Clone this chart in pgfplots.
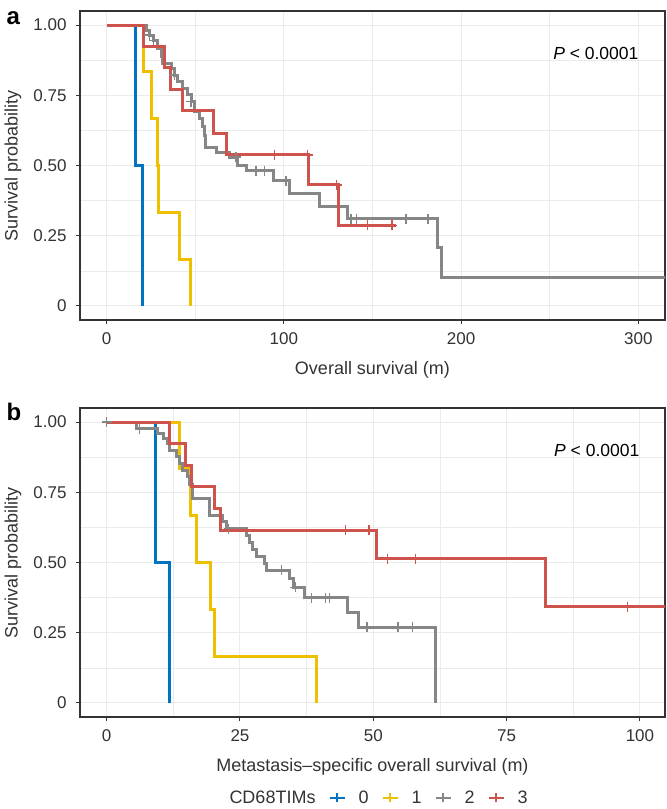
\documentclass[border=0pt]{standalone}
\usepackage{fontspec}
\setmainfont{Liberation Sans}
\usepackage{pgfplots}
\pgfplotsset{compat=1.18}
\definecolor{c0}{HTML}{0073C2}
\definecolor{c1}{HTML}{EFC000}
\definecolor{c2}{HTML}{868686}
\definecolor{c3}{HTML}{CD534C}
\definecolor{gridc}{HTML}{EBEBEB}
\definecolor{txt}{HTML}{333333}
\pgfplotsset{
 kmstyle/.style={
  scale only axis, width=585pt, height=309pt,
  ymin=-0.05, ymax=1.05,
  ytick={0,0.25,0.5,0.75,1}, yticklabels={0,0.25,0.50,0.75,1.00},
  minor ytick={0.125,0.375,0.625,0.875},
  grid=both, major grid style={gridc, line width=1pt}, minor grid style={gridc, line width=0.6pt},
  axis line style={txt, line width=1.2pt},
  tick align=outside, tick pos=left, tick style={txt, line width=1pt}, major tick length=4pt, minor tick length=0pt,
  tick label style={font=\fontsize{17}{20}\selectfont, text=txt},
  xticklabel style={yshift=-5pt},
  yticklabel style={xshift=-6pt},
  /pgf/number format/assume math mode=true,
  label style={font=\fontsize{18}{21}\selectfont, text=txt},
  ylabel={Survival probability},
  ylabel style={at={(axis description cs:-0.1145,0.5)}, anchor=center},
  xlabel style={at={(axis description cs:0.5,-0.162)}, anchor=center},
  clip=true,
 },
 km/.style={const plot, line width=3pt, #1},
 cens/.style={only marks, mark=+, mark size=5pt, line width=1.4pt, #1, forget plot},
}
\begin{document}
\begin{tikzpicture}[x=1pt,y=1pt]
\useasboundingbox (0pt,0pt) rectangle (667pt,809pt);
% ---------- panel a ----------
\begin{axis}[kmstyle, at={(80pt,489pt)}, anchor=south west,
  xmin=-15, xmax=315, xtick={0,100,200,300}, minor xtick={50,150,250},
  xlabel={Overall survival (m)}]
\addplot[km=c0] coordinates {(0,1) (16.2,0.5) (20.5,0)};
\addplot[km=c1] coordinates {(0,1) (21,0.833) (25.2,0.667) (28.5,0.5) (29.4,0.333) (41.1,0.167) (47.1,0)};
\addplot[km=c2] coordinates {(0,1) (22.3,0.982) (24.2,0.964) (26.5,0.946) (28.9,0.917) (30.8,0.887) (31.7,0.862) (36.4,0.846) (38.3,0.822) (40.2,0.798) (43,0.775) (45.8,0.751) (47.7,0.727) (49.6,0.691) (52.4,0.668) (53.9,0.640) (55.2,0.607) (56,0.565) (61.8,0.548) (69.3,0.530) (74,0.500) (78.7,0.482) (94.2,0.446) (103,0.399) (120,0.354) (136,0.310) (186.7,0.208) (188.9,0.101) (330,0.101)};
\addplot[km=c3] coordinates {(0,1) (20.8,0.923) (32.7,0.849) (36,0.769) (43,0.694) (60.5,0.615) (67.4,0.538) (114,0.431) (130.8,0.287) (163,0.287)};
\addplot[cens=c2] coordinates {(24.2,0.964) (26.5,0.946) (38.3,0.822) (47.7,0.727) (73.1,0.530) (84.3,0.482) (89,0.482) (101.2,0.446) (137.9,0.310) (141,0.310) (168.8,0.310) (181.4,0.310)};
\addplot[cens=c3] coordinates {(94.6,0.538) (113.4,0.538) (129.7,0.431) (147.2,0.287) (160.9,0.287)};
\node[font=\fontsize{17.5}{20}\selectfont, text=black] at (axis cs:276,0.899) {\textit{P} < 0.0001};
\end{axis}
% ---------- panel b ----------
\begin{axis}[kmstyle, at={(80pt,92pt)}, anchor=south west,
  xmin=-5, xmax=104.7, xtick={0,25,50,75,100}, minor xtick={12.5,37.5,62.5,87.5},
  xlabel={Metastasis–specific overall survival (m)},
  legend style={at={(axis description cs:0.5009,-0.262)}, anchor=center, draw=none, fill=none,
    legend columns=-1, font=\fontsize{18}{21}\selectfont, text=txt,
    /tikz/every even column/.append style={column sep=11pt},
    /tikz/every odd column/.append style={column sep=11pt}},
  legend image code/.code={\draw[#1, line width=2pt] (0pt,0pt)--(15pt,0pt); \draw[#1, line width=2pt] (7.5pt,-4.5pt)--(7.5pt,4.5pt);}]
\addlegendimage{empty legend}\addlegendentry{CD68TIMs}
\addplot[km=c0] coordinates {(0,1) (9.1,0.5) (11.8,0)};
\addlegendentry{0}
\addplot[km=c1] coordinates {(0,1) (13.7,0.833) (15.7,0.667) (16.9,0.5) (19.4,0.333) (20.25,0.167) (39.3,0)};
\addlegendentry{1}
\addplot[km=c2] coordinates {(0,1) (5.6,0.977) (9.6,0.960) (10.6,0.942) (11.5,0.924) (11.8,0.900) (13.1,0.877) (13.7,0.853) (14.2,0.829) (15.1,0.805) (15.6,0.776) (16.1,0.728) (19.3,0.669) (21.8,0.645) (22.4,0.621) (26.2,0.596) (26.8,0.571) (27.4,0.547) (28.1,0.522) (29.6,0.497) (30.0,0.472) (34.3,0.444) (35.1,0.412) (37.1,0.374) (45.25,0.322) (47.3,0.269) (61.7,0)};
\addlegendentry{2}
\addplot[km=c3] coordinates {(0,1) (11.8,0.923) (14.75,0.846) (16,0.769) (20.25,0.692) (21.3,0.615) (50.6,0.513) (82.3,0.342) (110,0.342)};
\addlegendentry{3}
\addplot[cens=c2] coordinates {(0,1) (6.2,0.977) (22.9,0.621) (32.75,0.472) (35.4,0.412) (38.4,0.374) (41,0.374) (41.8,0.374) (48.8,0.269) (54.6,0.269) (57.3,0.269)};
\addplot[cens=c3] coordinates {(44.8,0.615) (49.2,0.615) (52.7,0.513) (57.9,0.513) (97.7,0.342)};
\node[font=\fontsize{17.5}{20}\selectfont, text=black] at (axis cs:91.9,0.90) {\textit{P} < 0.0001};
\end{axis}
\node[font=\bfseries\fontsize{24}{28}\selectfont, anchor=base west] at (3pt,784pt) {a};
\node[font=\bfseries\fontsize{24}{28}\selectfont, anchor=base west] at (3pt,388pt) {b};
\end{tikzpicture}
\end{document}
